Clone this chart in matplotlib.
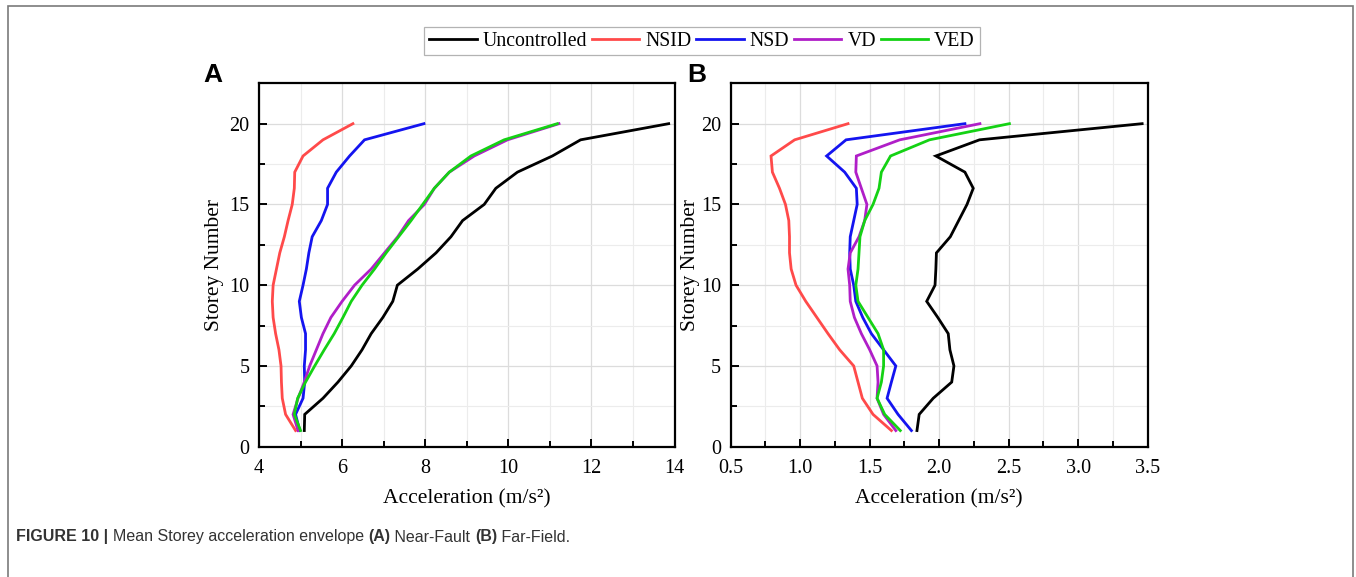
import matplotlib
matplotlib.use("Agg")
import matplotlib.pyplot as plt
from matplotlib.ticker import MultipleLocator, FormatStrFormatter
from matplotlib.patches import Rectangle

# ---------------- data ----------------
storeys = list(range(1, 21))
series_names = ["Uncontrolled", "NSID", "NSD", "VD", "VED"]

# Panel A: Near-Fault
nf_uncontrolled = [5.09, 5.10, 5.54, 5.90, 6.22, 6.48, 6.70, 6.98, 7.22, 7.33,
                   7.82, 8.26, 8.62, 8.90, 9.42, 9.70, 10.22, 11.06, 11.74, 13.86]
nf_nsid = [4.88, 4.64, 4.56, 4.54, 4.53, 4.48, 4.40, 4.34, 4.32, 4.34,
           4.42, 4.50, 4.61, 4.70, 4.80, 4.85, 4.86, 5.06, 5.54, 6.26]
nf_nsd = [4.98, 4.88, 5.06, 5.10, 5.09, 5.12, 5.12, 5.02, 4.97, 5.06,
          5.14, 5.20, 5.28, 5.50, 5.65, 5.65, 5.86, 6.18, 6.54, 7.97]
nf_vd = [4.94, 4.82, 4.94, 5.09, 5.22, 5.38, 5.54, 5.73, 6.00, 6.30,
         6.70, 7.02, 7.34, 7.60, 7.98, 8.22, 8.58, 9.18, 9.98, 11.22]
nf_ved = [5.00, 4.85, 4.93, 5.12, 5.34, 5.57, 5.81, 6.02, 6.22, 6.48,
          6.78, 7.06, 7.36, 7.66, 7.94, 8.22, 8.58, 9.10, 9.90, 11.18]

# Panel B: Far-Field
ff_uncontrolled = [1.84, 1.856, 1.957, 2.09, 2.106, 2.077, 2.065, 1.99, 1.91, 1.97,
                   1.976, 1.98, 2.08, 2.14, 2.20, 2.245, 2.185, 1.976, 2.29, 3.46]
ff_nsid = [1.656, 1.524, 1.447, 1.416, 1.385, 1.284, 1.20, 1.12, 1.04, 0.97,
           0.935, 0.923, 0.923, 0.918, 0.894, 0.851, 0.80, 0.79, 0.96, 1.344]
ff_nsd = [1.80, 1.704, 1.625, 1.656, 1.688, 1.60, 1.512, 1.45, 1.40, 1.385,
          1.36, 1.356, 1.36, 1.385, 1.41, 1.404, 1.32, 1.19, 1.33, 2.185]
ff_vd = [1.688, 1.60, 1.553, 1.56, 1.553, 1.50, 1.44, 1.39, 1.36, 1.356,
         1.344, 1.36, 1.423, 1.464, 1.48, 1.44, 1.40, 1.404, 1.716, 2.293]
ff_ved = [1.72, 1.608, 1.553, 1.584, 1.60, 1.60, 1.56, 1.488, 1.416, 1.40,
          1.416, 1.423, 1.43, 1.464, 1.524, 1.567, 1.584, 1.65, 1.93, 2.505]

colors = ["#000000", "#ff4a4a", "#1414f0", "#b01ec8", "#14d214"]

# ---------------- figure ----------------
W, H = 1356, 577
fig = plt.figure(figsize=(W / 100, H / 100), dpi=100)
serif = ["Liberation Serif", "DejaVu Serif"]
sans = ["Liberation Sans", "DejaVu Sans"]

# outer frame
fig.add_artist(Rectangle((8 / W, -0.02), (1353 - 8) / W, 1.02 - 6 / H,
                         transform=fig.transFigure, fill=False,
                         edgecolor="#7a7a7a", lw=1.2))

def px_axes(l, r, t, b):
    return [l / W, 1 - b / H, (r - l) / W, (b - t) / H]

axA = fig.add_axes(px_axes(259, 674.5, 83.3, 446.7))
axB = fig.add_axes(px_axes(730.7, 1147.7, 83.3, 446.7))

panels = [
    (axA, [nf_uncontrolled, nf_nsid, nf_nsd, nf_vd, nf_ved], (4, 14), 2, 1, "%d", "A", 203, 224),
    (axB, [ff_uncontrolled, ff_nsid, ff_nsd, ff_vd, ff_ved], (0.5, 3.5), 0.5, 0.25, "%.1f", "B", 687, 700),
]

handles = []
for ax, data, xlim, maj, mnr, fmt, lab, labx, ylx in panels:
    ax.set_axisbelow(True)
    hs = []
    for vals, c, name in zip(data, colors, series_names):
        h, = ax.plot(vals, storeys, color=c, lw=2.0, label=name, solid_joinstyle="miter")
        hs.append(h)
    handles = hs
    ax.set_xlim(*xlim)
    ax.set_ylim(0, 22.5)
    ax.xaxis.set_major_locator(MultipleLocator(maj))
    ax.xaxis.set_minor_locator(MultipleLocator(mnr))
    ax.xaxis.set_major_formatter(FormatStrFormatter(fmt))
    ax.yaxis.set_major_locator(MultipleLocator(5))
    ax.yaxis.set_minor_locator(MultipleLocator(2.5))
    ax.grid(True, which="major", color="#dcdcdc", lw=0.9)
    ax.grid(True, which="minor", color="#ececec", lw=0.8)
    ax.tick_params(which="both", direction="in", top=False, right=False,
                   labelsize=14.5, width=1.4, color="black")
    ax.tick_params(which="major", length=6)
    ax.tick_params(which="minor", length=4)
    ax.tick_params(axis="x", which="major", pad=9)
    ax.tick_params(axis="y", which="major", pad=7)
    for t in ax.get_xticklabels() + ax.get_yticklabels():
        t.set_family(serif)
    for s in ax.spines.values():
        s.set_linewidth(1.6)
        s.set_color("black")
    ax.set_xlabel("Acceleration (m/s²)", fontsize=15.5, family=serif, labelpad=8)
    ax.set_ylabel("Storey Number", fontsize=15.5, family=serif)
    l0 = ax.get_position().x0 * W
    wpx = ax.get_position().width * W
    ax.yaxis.set_label_coords((ylx - l0) / wpx, 0.5)
    fig.text(labx / W, 1 - 75 / H, lab, fontsize=19, fontweight="bold",
             family=sans, ha="left", va="center")

leg = fig.legend(handles, series_names, loc="center", bbox_to_anchor=(702 / W, 1 - 41 / H),
                 ncol=5, frameon=True, fancybox=False, prop={"family": serif, "size": 14.2},
                 handlelength=2.4, handletextpad=0.3, columnspacing=0.25,
                 borderpad=0.25, borderaxespad=0)
leg.get_frame().set_edgecolor("#a0a0a0")
leg.get_frame().set_linewidth(0.9)

# caption with mixed weights
pieces = [("FIGURE 10 | ", "bold"), ("Mean Storey acceleration envelope ", "normal"),
          ("(A)", "bold"), (" Near-Fault ", "normal"), ("(B)", "bold"), (" Far-Field.", "normal")]
fig.canvas.draw()
renderer = fig.canvas.get_renderer()
xcur = 16
for txt, wt in pieces:
    t = fig.text(xcur / W, 1 - 537 / H, txt, fontsize=11.5, fontweight=wt, family=sans,
                 color="#333333", ha="left", va="center")
    bb = t.get_window_extent(renderer=renderer)
    xcur += bb.width

fig.savefig("out.png", dpi=100)
